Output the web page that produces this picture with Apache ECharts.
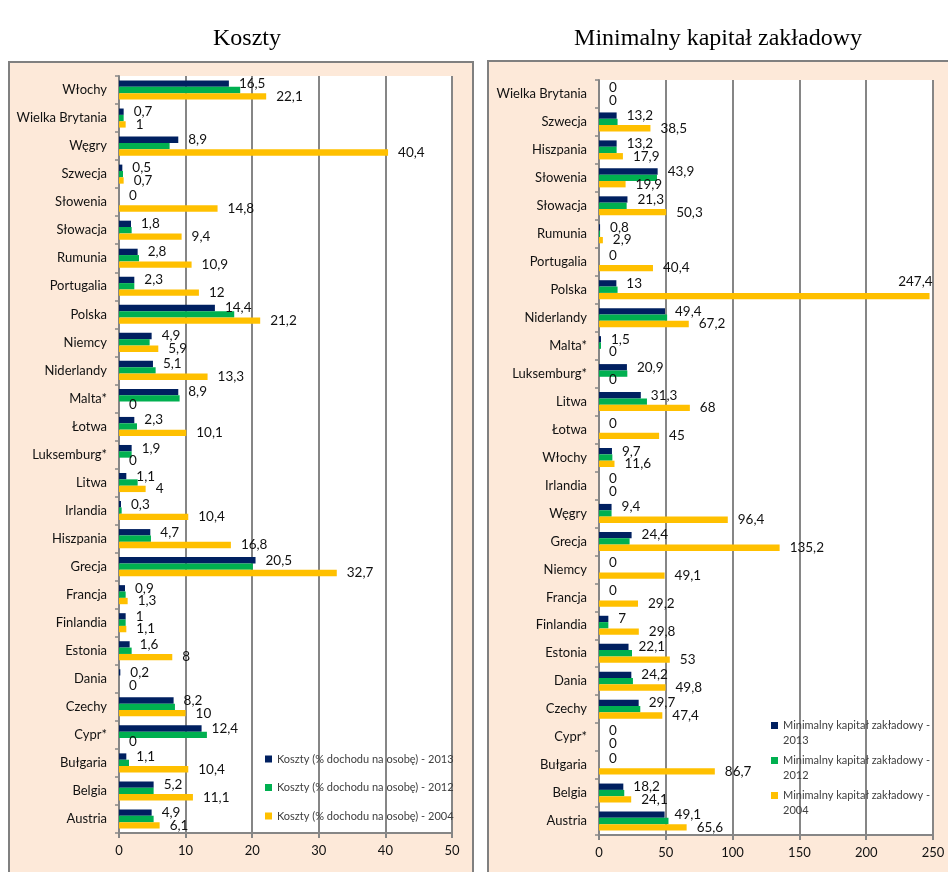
<!DOCTYPE html>
<html>
<head>
<meta charset="utf-8">
<script src="https://cdn.jsdelivr.net/npm/echarts@6/dist/echarts.min.js"></script>
<style>
html,body{margin:0;padding:0;background:#fff;}
#c{width:948px;height:872px;}
</style>
</head>
<body>
<div id="c"></div>
<script>
// ---- data (top-to-bottom order as in the picture) ----
var kosztyCats = ['Włochy','Wielka Brytania','Węgry','Szwecja','Słowenia','Słowacja','Rumunia','Portugalia','Polska','Niemcy','Niderlandy','Malta*','Łotwa','Luksemburg*','Litwa','Irlandia','Hiszpania','Grecja','Francja','Finlandia','Estonia','Dania','Czechy','Cypr*','Bułgaria','Belgia','Austria'];
var koszty2013 = [16.5,0.7,8.9,0.5,0,1.8,2.8,2.3,14.4,4.9,5.1,8.9,2.3,1.9,1.1,0.3,4.7,20.5,0.9,1,1.6,0.2,8.2,12.4,1.1,5.2,4.9];
var koszty2012 = [18.2,0.7,7.6,0.6,0,1.9,3.0,2.3,17.3,4.6,5.5,9.1,2.7,1.9,2.8,0.4,4.8,20.1,1.0,1.0,1.9,0,8.4,13.2,1.5,5.2,5.2];
var koszty2004 = [22.1,1,40.4,0.7,14.8,9.4,10.9,12,21.2,5.9,13.3,0,10.1,0,4,10.4,16.8,32.7,1.3,1.1,8,0,10,0,10.4,11.1,6.1];

var kapitalCats = ['Wielka Brytania','Szwecja','Hiszpania','Słowenia','Słowacja','Rumunia','Portugalia','Polska','Niderlandy','Malta*','Luksemburg*','Litwa','Łotwa','Włochy','Irlandia','Węgry','Grecja','Niemcy','Francja','Finlandia','Estonia','Dania','Czechy','Cypr*','Bułgaria','Belgia','Austria'];
var kapital2013 = [0,13.2,13.2,43.9,21.3,0.8,0,13,49.4,1.5,20.9,31.3,0,9.7,0,9.4,24.4,0,0,7,22.1,24.2,29.7,0,0,18.2,49.1];
var kapital2012 = [0,13.9,13.2,43.4,20.7,0.8,0,13.9,51,1.5,21.2,35.9,0,10,0,9.4,22.9,0,0,7,24.7,25.4,30.9,0,0,18.9,52];
var kapital2004 = [0,38.5,17.9,19.9,50.3,2.9,40.4,247.4,67.2,0,0,68,45,11.6,0,96.4,135.2,49.1,29.2,29.8,53,49.8,47.4,0,86.7,24.1,65.6];

var kosztyNames = ['Koszty (% dochodu na osobę) - 2013','Koszty (% dochodu na osobę) - 2012','Koszty (% dochodu na osobę) - 2004'];
var kapitalNames = ['Minimalny kapitał zakładowy - 2013','Minimalny kapitał zakładowy - 2012','Minimalny kapitał zakładowy - 2004'];
var kosztyTicks = {min:0, max:50, interval:10};
var kapitalTicks = {min:0, max:250, interval:50};

// ---- styling ----
var colors = ['#002060','#00B050','#FFC000'];
var FONT = 'Lato';
var GRIDC = '#868686';

function fmt(p){ return String(p.value).replace('.', ','); }

function barSeries(name, data, idx, axisIdx, showLabel, axisMax){
  // bars that reach the end of the axis get their label above the bar end (as Excel does)
  var items = data.map(function(v){
    if (showLabel && v > axisMax * 0.9) {
      return {value:v, label:{position:'insideRight', distance:0, offset:[3,-14]}};
    }
    return v;
  });
  return {
    type:'bar', name:name, data:items,
    xAxisIndex:axisIdx, yAxisIndex:axisIdx,
    barGap:'0%', barCategoryGap:'32%',
    itemStyle:{color:colors[idx]},
    label:{show:showLabel, position:'right', distance:10, formatter:fmt,
           fontFamily:FONT, fontSize:13.5, color:'#111'},
    animation:false
  };
}

function valueAxis(gi, t){
  return {type:'value', gridIndex:gi, position:'bottom', min:t.min, max:t.max, interval:t.interval,
    axisLine:{show:true, lineStyle:{color:GRIDC, width:2}},
    axisTick:{show:true, length:5, lineStyle:{color:GRIDC, width:2}},
    axisLabel:{fontFamily:FONT, fontSize:13, color:'#111', margin:11},
    splitLine:{show:true, lineStyle:{color:GRIDC, width:2}}};
}
function catAxis(gi, cats){
  return {type:'category', gridIndex:gi, data:cats, inverse:true,
    axisLine:{show:true, lineStyle:{color:GRIDC, width:2}},
    axisTick:{show:true, length:4, lineStyle:{color:GRIDC, width:1.5}},
    axisLabel:{fontFamily:FONT, fontSize:13, color:'#111', margin:12, interval:0},
    splitLine:{show:false}};
}

var chart = echarts.init(document.getElementById('c'), null, {renderer:'canvas'});
var panelStyle = {fill:'#FDE9D9', stroke:'#808080', lineWidth:2};
chart.setOption({
  backgroundColor:'#fff',
  animation:false,
  title:[
    {text:'Koszty', left:242, top:22, textAlign:'center',
     textStyle:{fontFamily:'Liberation Serif', fontSize:24, fontWeight:'normal', color:'#000'}},
    {text:'Minimalny kapitał zakładowy', left:713, top:22, textAlign:'center',
     textStyle:{fontFamily:'Liberation Serif', fontSize:24, fontWeight:'normal', color:'#000'}}
  ],
  graphic:[
    {type:'rect', z:-10, shape:{x:9, y:62, width:464, height:830}, style:panelStyle, silent:true},
    {type:'rect', z:-10, shape:{x:488, y:61, width:480, height:830}, style:panelStyle, silent:true}
  ],
  grid:[
    {left:119, right:496, top:76, bottom:39, show:true, backgroundColor:'#fff', borderWidth:0},
    {left:599, right:15, top:80, bottom:37, show:true, backgroundColor:'#fff', borderWidth:0}
  ],
  legend:[
    {data:kosztyNames, orient:'vertical', left:260, top:747, itemGap:14.5,
     itemWidth:7, itemHeight:7, icon:'rect', itemStyle:{borderWidth:0},
     textStyle:{fontFamily:FONT, fontSize:11, color:'#404040', lineHeight:14}},
    {data:kapitalNames, orient:'vertical', left:766, top:713, itemGap:5,
     itemWidth:7, itemHeight:30,
     icon:'path://M0,0L0,0ZM0,4L7,4L7,11L0,11ZM7,30L7,30Z', itemStyle:{borderWidth:0},
     formatter:function(n){ return n.replace(' - ', ' -\n'); },
     textStyle:{fontFamily:FONT, fontSize:11, color:'#404040', lineHeight:15}}
  ],
  xAxis:[valueAxis(0, kosztyTicks), valueAxis(1, kapitalTicks)],
  yAxis:[catAxis(0, kosztyCats), catAxis(1, kapitalCats)],
  series:[
    barSeries(kosztyNames[0], koszty2013, 0, 0, true, kosztyTicks.max),
    barSeries(kosztyNames[1], koszty2012, 1, 0, false, kosztyTicks.max),
    barSeries(kosztyNames[2], koszty2004, 2, 0, true, kosztyTicks.max),
    barSeries(kapitalNames[0], kapital2013, 0, 1, true, kapitalTicks.max),
    barSeries(kapitalNames[1], kapital2012, 1, 1, false, kapitalTicks.max),
    barSeries(kapitalNames[2], kapital2004, 2, 1, true, kapitalTicks.max)
  ]
});
</script>
</body>
</html>
